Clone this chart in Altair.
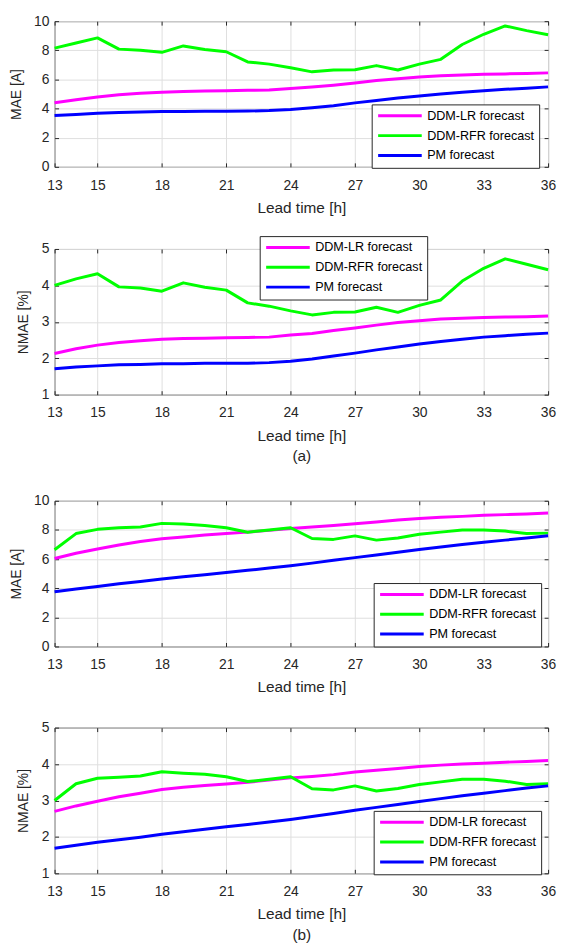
import altair as alt
import pandas as pd

# ---------------- data ----------------
hours = list(range(13, 37))
x_ticks = [13, 15, 18, 21, 24, 27, 30, 33, 36]
series_names = ["DDM-LR forecast", "DDM-RFR forecast", "PM forecast"]
series_colors = ["#ff00ff", "#00ff00", "#0000ff"]

# (a) MAE [A]
a_mae_lr = [4.40, 4.60, 4.80, 4.95, 5.05, 5.12, 5.17, 5.20, 5.23, 5.25, 5.28, 5.38,
            5.48, 5.60, 5.75, 5.92, 6.05, 6.17, 6.25, 6.30, 6.35, 6.38, 6.40, 6.45]
a_mae_rfr = [8.15, 8.50, 8.85, 8.08, 8.00, 7.86, 8.30, 8.05, 7.90, 7.20, 7.05, 6.80,
             6.52, 6.65, 6.67, 6.95, 6.65, 7.05, 7.38, 8.40, 9.10, 9.67, 9.35, 9.07]
a_mae_pm = [3.52, 3.60, 3.68, 3.73, 3.77, 3.80, 3.80, 3.82, 3.82, 3.83, 3.86, 3.93,
            4.05, 4.20, 4.39, 4.55, 4.72, 4.86, 5.00, 5.12, 5.23, 5.32, 5.40, 5.49]

# (a) NMAE [%]
a_nmae_lr = [2.13, 2.26, 2.36, 2.43, 2.48, 2.52, 2.54, 2.55, 2.56, 2.57, 2.58, 2.64,
             2.68, 2.76, 2.83, 2.91, 2.98, 3.03, 3.08, 3.10, 3.12, 3.13, 3.14, 3.16]
a_nmae_rfr = [4.00, 4.18, 4.32, 3.96, 3.93, 3.84, 4.07, 3.95, 3.87, 3.52, 3.43, 3.30,
              3.19, 3.26, 3.27, 3.40, 3.26, 3.45, 3.60, 4.12, 4.47, 4.73, 4.58, 4.43]
a_nmae_pm = [1.71, 1.76, 1.79, 1.82, 1.83, 1.85, 1.85, 1.86, 1.86, 1.86, 1.88, 1.92,
             1.98, 2.06, 2.14, 2.23, 2.31, 2.39, 2.46, 2.52, 2.58, 2.62, 2.66, 2.69]

# (b) MAE [A]
b_mae_lr = [6.04, 6.40, 6.69, 6.97, 7.20, 7.39, 7.52, 7.65, 7.75, 7.85, 7.97, 8.10,
            8.20, 8.30, 8.42, 8.55, 8.68, 8.78, 8.87, 8.93, 9.00, 9.05, 9.10, 9.16]
b_mae_rfr = [6.64, 7.75, 8.04, 8.15, 8.20, 8.45, 8.40, 8.30, 8.15, 7.84, 8.00, 8.15,
             7.41, 7.35, 7.59, 7.30, 7.45, 7.70, 7.85, 8.00, 8.00, 7.92, 7.75, 7.78]
b_mae_pm = [3.76, 3.95, 4.12, 4.30, 4.46, 4.63, 4.78, 4.93, 5.08, 5.23, 5.38, 5.54,
            5.72, 5.92, 6.10, 6.28, 6.47, 6.65, 6.83, 7.00, 7.15, 7.30, 7.45, 7.60]

# (b) NMAE [%]
b_nmae_lr = [2.70, 2.85, 2.98, 3.10, 3.20, 3.30, 3.36, 3.41, 3.45, 3.50, 3.56, 3.62,
             3.66, 3.71, 3.78, 3.83, 3.88, 3.93, 3.97, 4.00, 4.02, 4.05, 4.07, 4.10]
b_nmae_rfr = [3.00, 3.46, 3.61, 3.64, 3.67, 3.79, 3.75, 3.72, 3.65, 3.52, 3.58, 3.65,
              3.32, 3.29, 3.40, 3.26, 3.33, 3.44, 3.51, 3.58, 3.58, 3.53, 3.44, 3.46]
b_nmae_pm = [1.69, 1.77, 1.85, 1.92, 1.99, 2.07, 2.14, 2.21, 2.28, 2.34, 2.41, 2.48,
             2.56, 2.64, 2.73, 2.81, 2.89, 2.97, 3.05, 3.13, 3.20, 3.27, 3.34, 3.40]

# ---------------- style ----------------
FONT = "Liberation Sans"
AX = "#262626"
W, H = 498, 147


def make_panel(lr, rfr, pm, ydom, yvals, ytitle, xtitle, lx, ly):
    n = len(hours)
    df = pd.DataFrame({
        "h": hours * 3,
        "v": lr + rfr + pm,
        "s": [series_names[0]] * n + [series_names[1]] * n + [series_names[2]] * n,
    })
    xs = alt.Scale(domain=[13, 36], nice=False, zero=False)
    ys = alt.Scale(domain=ydom, nice=False, zero=False)
    lines = alt.Chart(df).mark_line(strokeWidth=3, strokeJoin="round").encode(
        x=alt.X("h:Q", scale=xs, axis=alt.Axis(
            orient="bottom", values=x_ticks, title=xtitle, offset=-4, tickSize=4,
            labelPadding=11.4, titlePadding=8.5, grid=True, domain=False,
            titleFontSize=15.5, labelFlush=False, labelOverlap=False, format="d")),
        y=alt.Y("v:Q", scale=ys, axis=alt.Axis(
            orient="left", values=yvals, title=ytitle, offset=-4, tickSize=4,
            labelPadding=5.7, titlePadding=10.5, grid=True, domain=False,
            titleFontSize=14, labelFlush=False, labelOverlap=False, format="d")),
        color=alt.Color("s:N", scale=alt.Scale(domain=series_names, range=series_colors),
                        legend=alt.Legend(
                            orient="none", legendX=lx, legendY=ly, title=None,
                            direction="vertical", symbolType="stroke", symbolSize=1936,
                            symbolStrokeWidth=3, clipHeight=13, rowPadding=6,
                            padding=5, labelFontSize=12.7, labelFont=FONT,
                            labelColor="#000000", labelOffset=4, strokeColor=AX,
                            fillColor="white", labelLimit=300)),
    )
    frame = alt.Chart(df).mark_line(opacity=0).encode(
        x=alt.X("h:Q", scale=xs, axis=alt.Axis(
            orient="top", values=x_ticks, title=None, labels=False, offset=-4,
            tickSize=4, grid=False, domain=False)),
        y=alt.Y("v:Q", scale=ys, axis=alt.Axis(
            orient="right", values=yvals, title=None, labels=False, offset=-4,
            tickSize=4, grid=False, domain=False)),
    )
    return alt.layer(lines, frame).resolve_axis(x="independent", y="independent").properties(
        width=W, height=H)


p1 = make_panel(a_mae_lr, a_mae_rfr, a_mae_pm, [0, 10], [0, 2, 4, 6, 8, 10],
                "MAE [A]", "Lead time [h]", 320, 84)
p2 = make_panel(a_nmae_lr, a_nmae_rfr, a_nmae_pm, [1, 5], [1, 2, 3, 4, 5],
                "NMAE [%]", ["Lead time [h]", "(a)"], 207, -13)
p3 = make_panel(b_mae_lr, b_mae_rfr, b_mae_pm, [0, 10], [0, 2, 4, 6, 8, 10],
                "MAE [A]", "Lead time [h]", 322, 83)
p4 = make_panel(b_nmae_lr, b_nmae_rfr, b_nmae_pm, [1, 5], [1, 2, 3, 4, 5],
                "NMAE [%]", ["Lead time [h]", "(b)"], 322, 84)

top = alt.vconcat(p1, p2, spacing=82.9, bounds="flush").resolve_scale(color="independent")
bot = alt.vconcat(p3, p4, spacing=81.9, bounds="flush").resolve_scale(color="independent")

chart = alt.vconcat(top, bot, spacing=28).resolve_scale(color="independent").configure(
    padding={"left": 0, "top": 1, "right": 0, "bottom": 0},
    background="white",
    font=FONT,
).configure_view(
    stroke=AX, strokeWidth=1
).configure_axis(
    labelFont=FONT, titleFont=FONT, labelFontSize=14, titleFontSize=15,
    labelColor=AX, titleColor=AX, titleFontWeight="normal", gridColor="#dfdfdf",
    gridWidth=1, tickColor=AX, tickWidth=1, minExtent=0, titleLineHeight=21,
)

chart.save("out.html", embed_options={"renderer": "svg", "actions": False})
